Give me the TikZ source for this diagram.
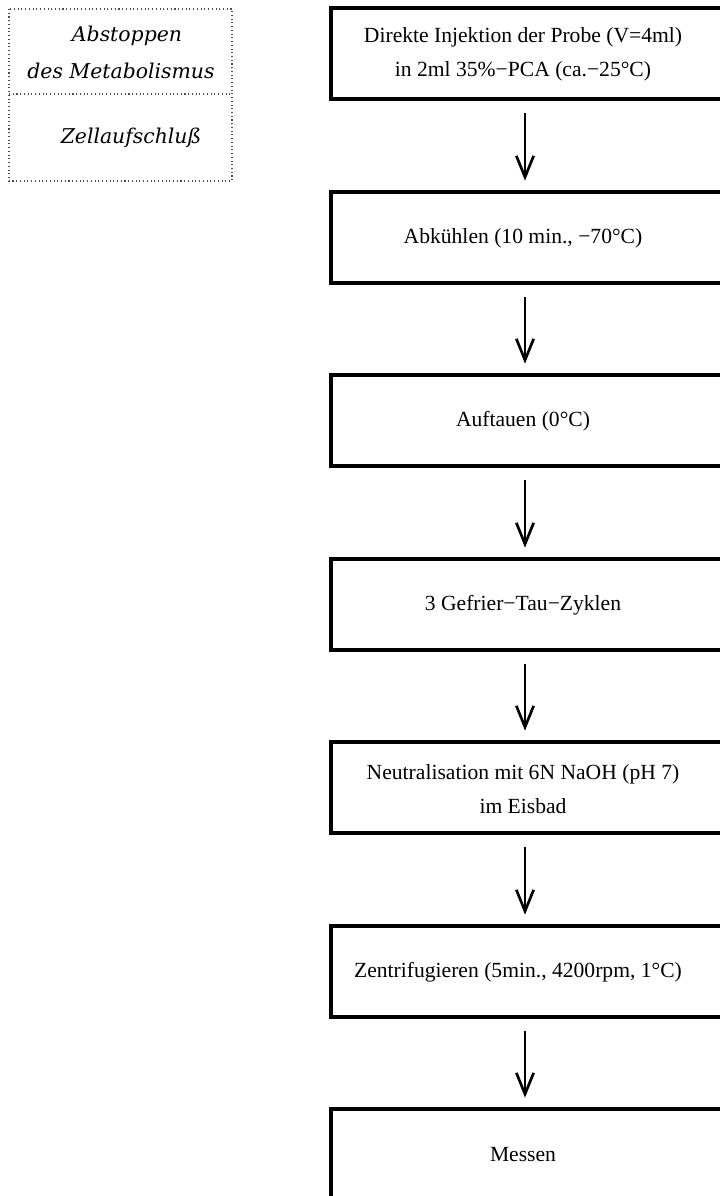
\documentclass[tikz,border=0pt]{standalone}
\usepackage{fontspec}
\setmainfont{Liberation Serif}
\newfontfamily\labfont{DejaVu Serif}
\usetikzlibrary{arrows.meta}
\begin{document}
\begin{tikzpicture}[x=0.75pt,y=-0.75pt,
  stepbox/.style={draw=black,line width=2.8pt},
  steptext/.style={font=\fontsize{16.2pt}{25.5pt}\selectfont,align=center,inner sep=0pt},
  flow/.style={line width=2pt,-{Straight Barb[length=16pt,width=13pt,line width=2pt]}},
  sidebox/.style={draw=black!70,dotted,line width=0.8pt},
  sidetext/.style={font=\labfont\itshape\fontsize{15.3pt}{25.5pt}\selectfont,align=center,inner sep=0pt}]
\useasboundingbox (0,0) rectangle (720,1196);
\begin{scope}
\clip (0,0) rectangle (720,1196);
% side legend
\draw[sidebox] (9,9) rectangle (232,181);
\draw[sidebox] (9,94) -- (232,94);
\node[sidetext] (l1) at (127,36) {Abstoppen};
\node[sidetext] (l2) at (121,71) {des Metabolismus};
\node[sidetext] (l3) at (131,138) {Zellaufschluß};
% step boxes
\foreach \n/\t in {1/8,2/192,3/375,4/559,5/742,6/926,7/1109}{
  \draw[stepbox] (331,\t) rectangle (740,\t+91);
  \coordinate (b\n top) at (525,\t);
  \coordinate (b\n bot) at (525,\t+91);
}
\node[steptext] (s1) at (523,54) {Direkte Injektion der Probe (V=4ml)\\in 2ml 35\%−PCA (ca.−25°C)};
\node[steptext] (s2) at (523,238) {Abkühlen (10 min., −70°C)};
\node[steptext] (s3) at (523,421) {Auftauen (0°C)};
\node[steptext] (s4) at (523,605) {3 Gefrier−Tau−Zyklen};
\node[steptext] (s5) at (523,789) {Neutralisation mit 6N NaOH (pH 7)\\im Eisbad};
\node[steptext] (s6) at (518,972) {Zentrifugieren (5min., 4200rpm, 1°C)};
\node[steptext] (s7) at (523,1155) {Messen};
\foreach \a/\b in {1/2,2/3,3/4,4/5,5/6,6/7}{
  \draw[flow] ([yshift=-10.5pt]b\a bot) -- ([yshift=8.5pt]b\b top);
}
\end{scope}
\end{tikzpicture}
\end{document}
